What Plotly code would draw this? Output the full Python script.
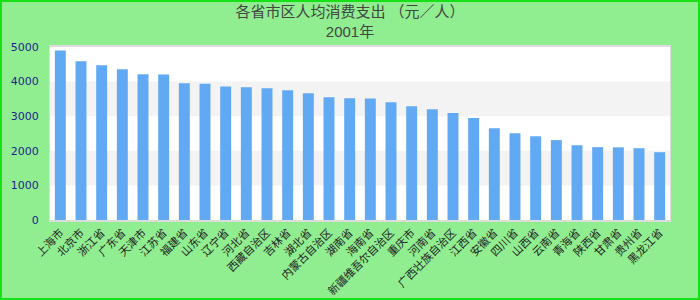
import plotly.graph_objects as go

categories = ["上海市", "北京市", "浙江省", "广东省", "天津市", "江苏省", "福建省", "山东省",
              "辽宁省", "河北省", "西藏自治区", "吉林省", "湖北省", "内蒙古自治区", "湖南省",
              "海南省", "新疆维吾尔自治区", "重庆市", "河南省", "广西壮族自治区", "江西省",
              "安徽省", "四川省", "山西省", "云南省", "青海省", "陕西省", "甘肃省", "贵州省", "黑龙江省"]
values = [4900, 4590, 4470, 4360, 4210, 4205, 3950, 3940, 3860, 3835, 3810, 3750, 3660, 3550, 3520,
          3515, 3400, 3290, 3200, 3090, 2948, 2655, 2510, 2420, 2310, 2160, 2105, 2100, 2075, 1960]
band_ranges = [(1000, 2000), (3000, 4000)]
y_ticks = [0, 1000, 2000, 3000, 4000, 5000]
title_line1 = "各省市区人均消费支出 （元／人）"
title_line2 = "2001年"

W, H = 700, 300
ml, mr, mt, mb = 50, 30, 47, 80
pw, ph = W - ml - mr, H - mt - mb

fig = go.Figure(go.Bar(x=categories, y=values, marker=dict(color="#62a9f3", line=dict(width=0))))

shapes = []
for lo, hi in band_ranges:
    shapes.append(dict(type="rect", xref="paper", yref="y", x0=0, x1=1, y0=lo, y1=hi,
                       fillcolor="#f3f3f3", line=dict(width=0), layer="below"))
# outer page border
shapes.append(dict(type="rect", xref="paper", yref="paper",
                   x0=(-ml + 1) / pw, x1=1 + (mr - 1) / pw,
                   y0=(-mb + 1) / ph, y1=1 + (mt - 1) / ph,
                   line=dict(color="#16e016", width=2), fillcolor="rgba(0,0,0,0)", layer="above"))

fig.update_layout(
    width=W, height=H,
    margin=dict(l=ml, r=mr, t=mt, b=mb, autoexpand=False),
    paper_bgcolor="#90ee90", plot_bgcolor="#ffffff",
    font=dict(family="DejaVu Sans, Noto Sans CJK SC", size=11, color="#333333"),
    title=dict(text=title_line1 + "<br>" + title_line2, x=0.5, xanchor="center",
               y=0.943, yanchor="top", yref="container",
               font=dict(size=15, color="#444444", family="Liberation Sans, Noto Sans CJK SC")),
    bargap=0.47,
    showlegend=False,
    shapes=shapes,
)
fig.update_xaxes(type="category", tickangle=-45, automargin=False, showgrid=False,
                 showline=True, mirror=True, linecolor="#dcdcdc", linewidth=2,
                 tickfont=dict(size=11, color="#222222"), range=[-0.5, len(categories) - 0.5])
fig.update_yaxes(range=[0, 5000], tickvals=y_ticks, showgrid=False, zeroline=False,
                 showline=True, mirror=True, linecolor="#dcdcdc", linewidth=1,
                 ticklabelstandoff=8, automargin=False,
                 tickfont=dict(size=11, color="#1f1f8f"))

fig.write_html("out.html")
